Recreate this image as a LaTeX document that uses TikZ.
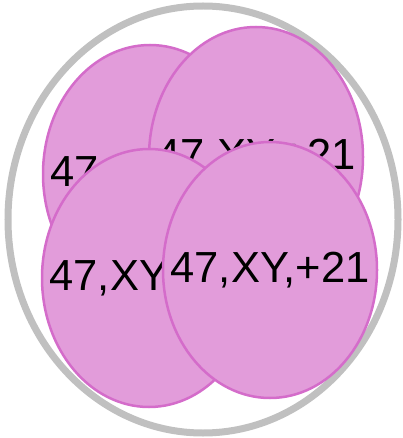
\documentclass[tikz,border=0pt]{standalone}
\usepackage{fontspec}
\setmainfont{Liberation Sans}
\usetikzlibrary{shapes.geometric}
\definecolor{cellfill}{RGB}{226,156,218}
\definecolor{celledge}{RGB}{212,108,202}
\definecolor{outergray}{RGB}{192,192,192}
\tikzset{
  cell/.style={ellipse, draw=celledge, fill=cellfill, line width=2.5pt,
    minimum width=214pt, minimum height=258pt, inner sep=0pt},
  celltext/.style={font=\fontsize{43.5}{52}\selectfont, text=black, inner sep=0pt},
}
\begin{document}
\begin{tikzpicture}[x=1pt,y=-1pt]
\useasboundingbox (0,0) rectangle (403,438);
\node[ellipse, draw=outergray, line width=7pt, minimum width=390pt, minimum height=427pt, inner sep=0pt] (outer) at (203,219.5) {};
\node[cell] (c1) at (150,174) {};
\node[celltext] (t1) at (c1) {47,XY,+21};
\node[cell, minimum height=260pt] (c2) at (256,157) {};
\node[celltext] (t2) at (c2) {47,XY,+21};
\node[cell] (c3) at (149,278) {};
\node[celltext] (t3) at (c3) {47,XY,+21};
\node[cell, minimum height=256pt] (c4) at (270,270) {};
\node[celltext] (t4) at (c4) {47,XY,+21};
\end{tikzpicture}
\end{document}
